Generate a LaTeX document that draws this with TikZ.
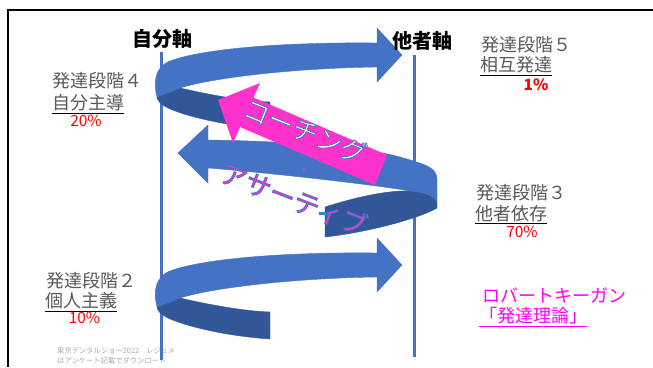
\documentclass[tikz,border=0pt]{standalone}
\usepackage{fontspec}
\setmainfont{Noto Sans CJK JP}
\definecolor{ribbon}{RGB}{68,114,196}
\definecolor{ribbonback}{RGB}{50,87,152}
\definecolor{coachpink}{RGB}{255,51,204}
\definecolor{stagegray}{RGB}{89,89,89}
\definecolor{keganpink}{RGB}{255,0,255}
\definecolor{footgray}{RGB}{170,170,170}
% blue outline round the letters of the arrow texts
\newcommand{\blueoutline}[1]{\special{pdf:literal direct 2 Tr 0.8 w 0.267 0.447 0.769 RG}#1\special{pdf:literal direct 0 Tr}}

\begin{document}
\begin{tikzpicture}[x=1pt, y=-1pt,
  front/.style={fill=ribbon, draw=ribbon, line width=0.4pt},
  back/.style={fill=ribbonback, draw=ribbonback, line width=0.4pt},
  axisline/.style={draw=ribbon, line width=3pt},
  frame/.style={draw=black, line width=2.5pt},
  axislabel/.style={inner sep=0pt, font=\fontsize{20}{24}\selectfont\bfseries},
  stage/.style={anchor=west, inner sep=0pt, text=stagegray, font=\fontsize{18}{22}\selectfont},
  stagename/.style={anchor=west, inner sep=0pt, text=black, font=\fontsize{18}{22}\selectfont},
  share/.style={inner sep=0pt, text=red, font=\fontsize{15.5}{18}\selectfont},
  kegan/.style={anchor=west, inner sep=0pt, text=keganpink, font=\fontsize{18}{22}\selectfont},
  coachtext/.style={inner sep=0pt, rotate=-22, font=\fontsize{26}{30}\selectfont},
  footer/.style={anchor=west, inner sep=0pt, align=left, text=footgray, font=\fontsize{7.3}{10}\selectfont},
  rightspiral/.pic={
    % back side of the curl
    \fill[back] (180,88) .. controls (215,96) and (245,101) .. (270,102) -- (270,129)
      .. controls (225,126) and (185,116) .. (168,108) .. controls (160,104) and (157,100) .. (157,97) -- cycle;
    % front band and head
    \fill[front] (377,43) .. controls (290,42) and (205,48) .. (170,61)
      .. controls (155,67) and (153,82) .. (157,97) -- (180,88)
      .. controls (215,77) and (300,68) .. (377,67) -- (377,82) -- (402,55) -- (377,28) -- cycle;
  }
]
\useasboundingbox (0,0) rectangle (653,367);

% Frame and footer
\draw[frame] (8,367) -- (8,10) -- (653,10);
\node[footer] (footer) at (57,356) {東京デンタルショー2022　レジュメ\\はアンケート記載でダウンロード};

% Axes
\draw[axisline] (161,52) -- (161,360);
\draw[axisline] (414,55) -- (414,357);

% Spirals
\pic at (0,0) {rightspiral};
\fill[back] (325,207) .. controls (350,199) and (385,190) .. (410,191)
  .. controls (425,192) and (435,196) .. (437,203) -- (437,208)
  .. controls (420,218) and (370,232) .. (325,237) -- cycle;
\fill[front] (208,140) .. controls (280,141) and (360,146) .. (400,157)
  .. controls (428,165) and (437,168) .. (437,180) -- (437,203)
  .. controls (435,196) and (425,192) .. (410,191)
  .. controls (370,184) and (260,172) .. (208,168) -- (208,183) -- (178,153) -- (208,125) -- cycle;
\pic at (0,210) {rightspiral};

% Coaching arrow
\fill[coachpink] (387,155) -- (253.5,97.5) -- (260,83) -- (218,100) -- (233,143) -- (240,127) -- (375,185) -- cycle;
\node[coachtext, text=white] (coach) at (305,131) {\blueoutline{コーチング}};
\node[inner sep=0pt, text=coachpink, font=\fontsize{10}{12}\selectfont] (plus) at (304,170) {+};
\node[coachtext, rotate=1, text=coachpink] (assert) at (294,199) {\blueoutline{アサーティブ}};

% Axis labels
\node[axislabel] (selfaxis) at (162,39) {自分軸};
\node[axislabel] (otheraxis) at (422,41) {他者軸};

% Stages
\node[stage] (stage4) at (52,81) {発達段階４};
\node[stagename] (stage4name) at (52,104) {\underline{\textcolor{stagegray}{自分主導}}};
\node[share] (stage4share) at (86,121) {20\%};

\node[stage] (stage5) at (481,45) {発達段階５};
\node[stagename] (stage5name) at (480,66) {\underline{\textcolor{stagegray}{相互発達}}};
\node[share, font=\fontsize{15.5}{18}\selectfont\bfseries] (stage5share) at (536,85) {1\%};

\node[stage] (stage3) at (476,192.5) {発達段階３};
\node[stagename] (stage3name) at (475,215) {\underline{\textcolor{stagegray}{他者依存}}};
\node[share] (stage3share) at (522,232) {70\%};

\node[stage] (stage2) at (46,280.5) {発達段階２};
\node[stagename] (stage2name) at (45,302) {\underline{\textcolor{stagegray}{個人主義}}};
\node[share] (stage2share) at (84.5,317.5) {10\%};

% Kegan
\node[kegan] (kegan) at (482,295.5) {ロバートキーガン};
\node[kegan] (theory) at (479,317) {\underline{「発達理論」}};

\end{tikzpicture}
\end{document}
